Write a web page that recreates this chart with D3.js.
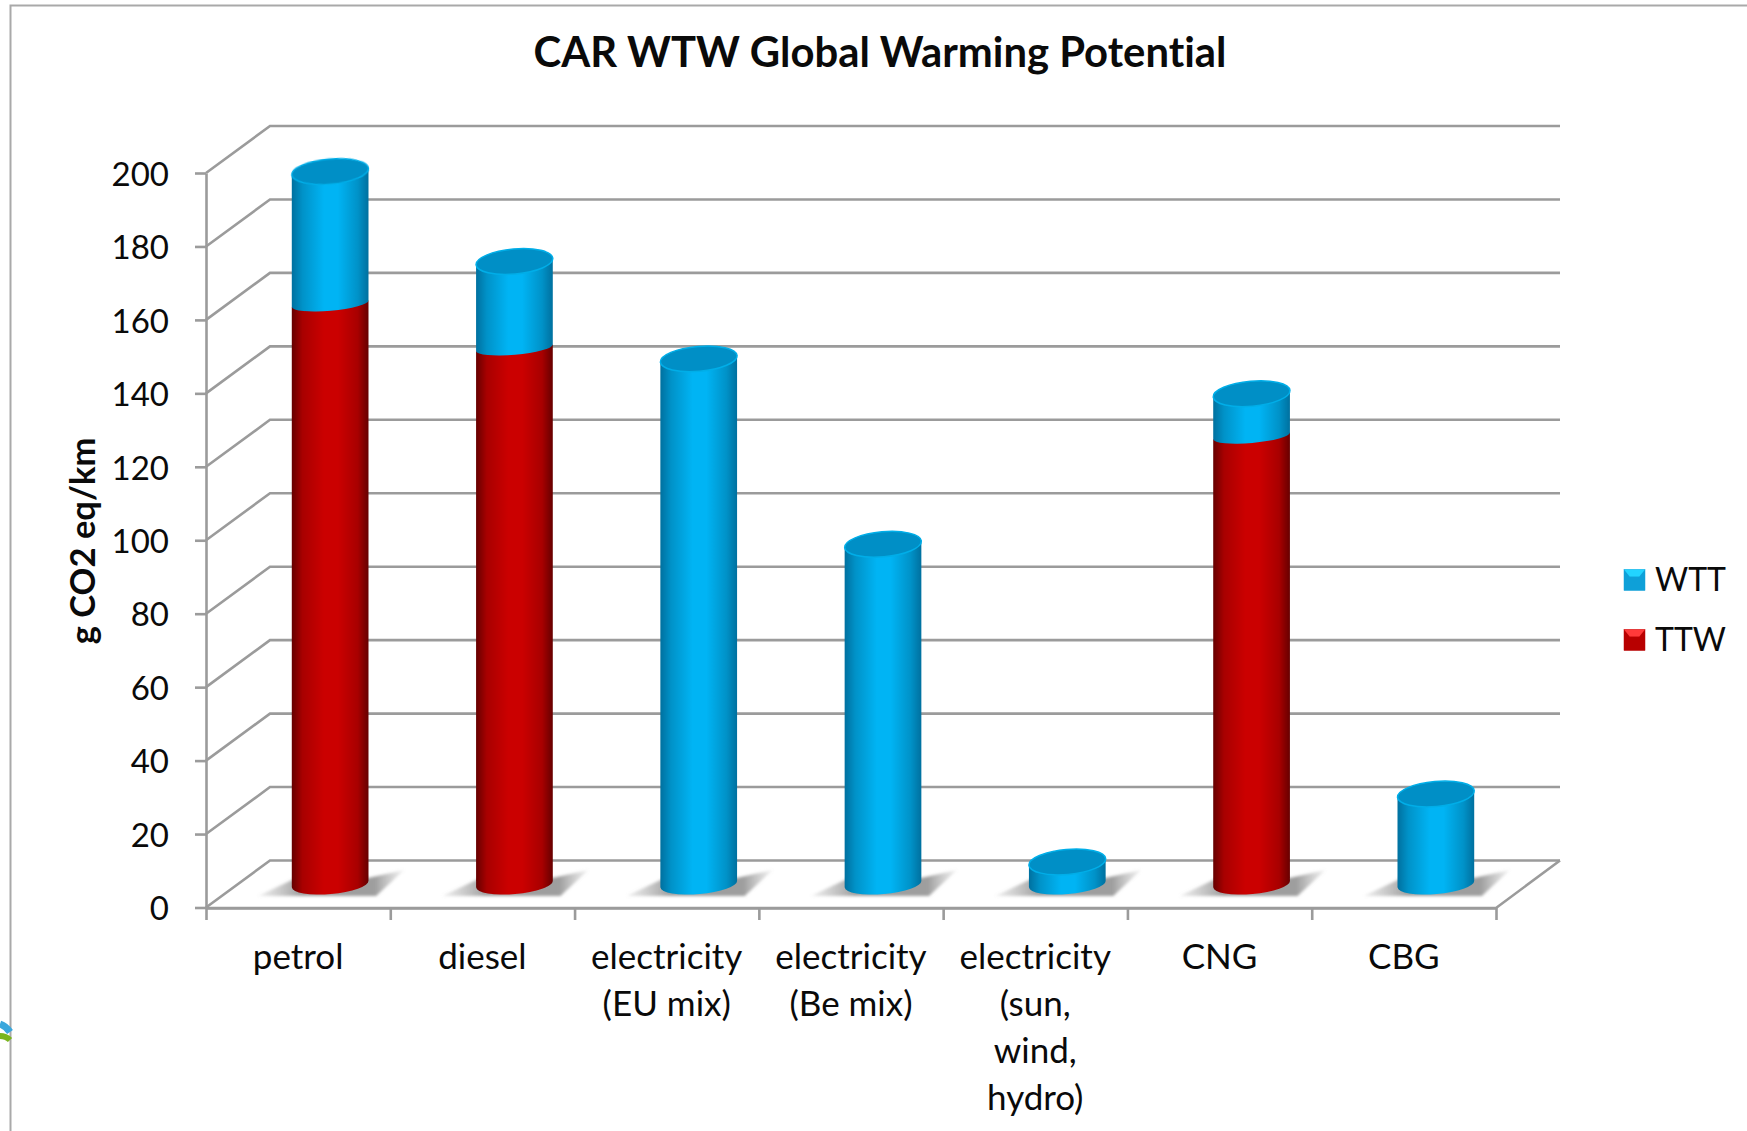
<!DOCTYPE html>
<html>
<head>
<meta charset="utf-8">
<title>CAR WTW Global Warming Potential</title>
<script src="https://cdn.jsdelivr.net/npm/d3@7.9.0/dist/d3.min.js"></script>
<style>
  html, body { margin: 0; background: #fff; }
  svg { display: block; }
  text { font-family: Lato, "Open Sans", sans-serif; fill: #0a0a0a; font-variant-ligatures: none; }
</style>
</head>
<body>
<svg id="chart" width="1747" height="1131"></svg>
<script>
/* ------------------------------- Data ------------------------------- */
const categories = [
  "petrol", "diesel", "electricity\n(EU mix)", "electricity\n(Be mix)",
  "electricity\n(sun,\nwind,\nhydro)", "CNG", "CBG"
];
const ttw = [158, 146, 0, 0, 0, 122, 0];
const wtt = [36, 23.5, 143, 92.5, 6, 11.5, 24.5];
const yTicks = [0, 20, 40, 60, 80, 100, 120, 140, 160, 180, 200];
const seriesKeys = ["TTW", "WTT"];
const legendKeys = ["WTT", "TTW"];

/* ------------------------------ Layout ------------------------------ */
const left = 206, right = 1496, y0 = 907.5, y200 = 173;
const depthX = 64, depthY = -47;       // front wall -> back wall
const midX = depthX / 2, midY = depthY / 2;
const rx = 38.5, tilt = -5;
const tiltRad = tilt * Math.PI / 180;

const svg = d3.select("#chart");
const x = d3.scaleBand().domain(categories).range([left, right]);
const y = d3.scaleLinear().domain([0, 200]).range([y0, y200]);
const xEdges = d3.scalePoint().domain(d3.range(categories.length + 1)).range([left, right]);

const colors = {
  WTT: { stops: ["#00709f", "#0092c8", "#00b4f4", "#00b4f4", "#0092c8", "#00709f"], cap: "#008fc6", rim: "#00aee8", hi: "#22d4ff", lo: "#0ea0d8" },
  TTW: { stops: ["#660000", "#a80000", "#cb0000", "#cb0000", "#a80000", "#660000"], cap: "#a30000", rim: "#cb0000", hi: "#ff3a3a", lo: "#b80000" }
};

/* ------------------------------ Defs -------------------------------- */
const defs = svg.append("defs");
seriesKeys.forEach((k) => {
  const g = defs.append("linearGradient").attr("id", `body-${k}`);
  [0, 0.14, 0.42, 0.6, 0.86, 1].forEach((o, i) =>
    g.append("stop").attr("offset", o).attr("stop-color", colors[k].stops[i]));
});
defs.append("filter").attr("id", "soft").append("feGaussianBlur").attr("stdDeviation", 0.6);
defs.append("filter").attr("id", "shadowBlur")
  .attr("x", "-20%").attr("width", "140%").attr("y", "-30%").attr("height", "160%")
  .append("feGaussianBlur").attr("stdDeviation", 1.8);
const sg = defs.append("linearGradient").attr("id", "shadowFill");
sg.append("stop").attr("offset", 0).attr("stop-color", "#b0b0b0").attr("stop-opacity", 0.2);
sg.append("stop").attr("offset", 0.3).attr("stop-color", "#9e9e9e");
sg.append("stop").attr("offset", 0.8).attr("stop-color", "#9e9e9e");
sg.append("stop").attr("offset", 1).attr("stop-color", "#b0b0b0").attr("stop-opacity", 0.15);

/* ------------------------------ Frame ------------------------------- */
svg.append("path").attr("d", "M10.5,1131V5.5H1747")
  .attr("fill", "none").attr("stroke", "#a9a9a9").attr("stroke-width", 2);

// scrap of the slide's logo, cut off by the frame
svg.append("path").attr("d", "M0,1024Q6,1026 10,1032").attr("fill", "none").attr("stroke", "#3aa7dc").attr("stroke-width", 7);
svg.append("path").attr("d", "M0,1036Q6,1036 10,1040").attr("fill", "none").attr("stroke", "#7ab51d").attr("stroke-width", 6);

/* ------------------------------ Walls ------------------------------- */
const wall = svg.append("g").attr("filter", "url(#soft)")
  .attr("fill", "none").attr("stroke", "#9b9b9b").attr("stroke-width", 2.6);

wall.selectAll(".grid").data(yTicks).join("path").attr("class", "grid")
  .attr("d", (d) => `M${left},${y(d)}L${left + depthX},${y(d) + depthY}H${right + depthX}`);
wall.append("path")
  .attr("d", `M${left},${y0 + 0.5}H${right}L${right + depthX},${y0 + depthY}`);

/* ------------------------------ Axes -------------------------------- */
const yAxis = svg.append("g").attr("transform", `translate(${left},0)`)
  .call(d3.axisLeft(y).tickValues(yTicks).tickSize(11).tickPadding(26).tickSizeOuter(0));
yAxis.selectAll("text").style("font-size", "33px").attr("dy", "0.37em");

const xAxis = svg.append("g").attr("transform", `translate(0,${y0 + 0.5})`)
  .call(d3.axisBottom(xEdges).tickSize(12).tickFormat("").tickSizeOuter(0));
[yAxis, xAxis].forEach((a) => {
  a.selectAll("path, line").attr("stroke", "#9b9b9b").attr("stroke-width", 2.6);
});

svg.selectAll(".xlabel").data(categories).join("text").attr("class", "xlabel")
  .attr("text-anchor", "middle").style("font-size", "35px")
  .each(function (d) {
    d3.select(this).selectAll("tspan").data(d.split("\n")).join("tspan")
      .attr("x", x(d) + x.bandwidth() / 2)
      .attr("y", (_, i) => 969 + i * 47)
      .text((t) => t);
  });

svg.append("text").attr("class", "ytitle")
  .attr("transform", "translate(95,541) rotate(-90)")
  .attr("text-anchor", "middle").style("font-size", "34.5px").style("font-weight", 700)
  .text("g CO2 eq/km");

svg.append("text").attr("x", 880).attr("y", 67)
  .attr("text-anchor", "middle").style("font-size", "41.8px").style("font-weight", 700)
  .text("CAR WTW Global Warming Potential");

/* ------------------------------ Bars -------------------------------- */
const rows = categories.map((c, i) => ({ category: c, TTW: ttw[i], WTT: wtt[i] }));
const stacked = d3.stack().keys(seriesKeys)(rows);

const cx = (c) => x(c) + x.bandwidth() / 2 + midX;
const cy = (v) => y(v) + midY;
const edge = (c, v) => ({
  lx: cx(c) - rx * Math.cos(tiltRad), ly: cy(v) - rx * Math.sin(tiltRad),
  rx: cx(c) + rx * Math.cos(tiltRad), ry: cy(v) + rx * Math.sin(tiltRad)
});

const bars = svg.append("g").attr("filter", "url(#soft)");

// floor shadows
bars.selectAll(".shadow").data(categories).join("path").attr("class", "shadow")
  .attr("d", (c) => {
    const a = cx(c), b = cy(0);
    return `M${a - 72},${b + 12}L${a - 34},${b - 6}H${a + 38}L${a + 74},${b - 14}L${a + 46},${b + 12}Z`;
  })
  .attr("fill", "url(#shadowFill)").attr("filter", "url(#shadowBlur)");

// cylinder bodies, lower series first so the seam of the upper one sits on top
stacked.forEach((layer) => {
  const key = layer.key;
  const segs = layer.map((d, i) => ({ c: categories[i], v0: d[0], v1: d[1] })).filter((d) => d.v1 > d.v0);
  bars.selectAll(`.body-${key}`).data(segs).join("path").attr("class", `body-${key}`)
    .attr("d", (d) => {
      const t = edge(d.c, d.v1), b = edge(d.c, d.v0);
      const ryB = d.v0 === 0 ? 10 : 7;
      return `M${t.lx},${t.ly}L${b.lx},${b.ly}A${rx},${ryB} ${tilt} 0 0 ${b.rx},${b.ry}L${t.rx},${t.ry}Z`;
    })
    .attr("fill", `url(#body-${key})`);
});

// caps: every bar ends in WTT
const totals = categories.map((c, i) => ({ c, v: ttw[i] + wtt[i] }));
bars.selectAll(".cap").data(totals).join("ellipse").attr("class", "cap")
  .attr("rx", rx).attr("ry", 12.5)
  .attr("transform", (d) => `translate(${cx(d.c)},${cy(d.v)}) rotate(${tilt})`)
  .attr("fill", colors.WTT.cap).attr("stroke", colors.WTT.rim).attr("stroke-width", 1.5);

/* ------------------------------ Legend ------------------------------ */
const legendY = d3.scalePoint().domain(legendKeys).range([580, 640]);
const swatch = 21;
const legend = svg.selectAll(".legend").data(legendKeys).join("g").attr("class", "legend")
  .attr("transform", (k) => `translate(1624,${legendY(k) - swatch / 2})`);
legend.append("rect").attr("width", swatch).attr("height", swatch)
  .attr("fill", (k) => colors[k].lo).attr("stroke", (k) => colors[k].lo).attr("stroke-width", 0.5);
legend.append("path").attr("d", `M0,0H${swatch}L${swatch * 0.72},${swatch * 0.34}H${swatch * 0.28}Z`)
  .attr("fill", (k) => colors[k].hi);
legend.append("path").attr("d", `M${swatch * 0.28},${swatch * 0.34}H${swatch * 0.72}L${swatch / 2},${swatch * 0.62}Z`)
  .attr("fill", (k) => colors[k].lo);
legend.append("text").attr("x", 31).attr("y", swatch + 0.5).style("font-size", "32px").text((k) => k);
</script>
</body>
</html>
